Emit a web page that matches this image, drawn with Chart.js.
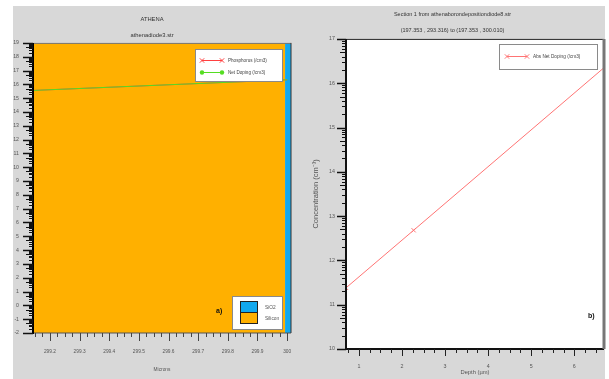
<!DOCTYPE html>
<html>
<head>
<meta charset="utf-8">
<script src="https://cdn.jsdelivr.net/npm/chart.js@4.4.1/dist/chart.umd.min.js"></script>
<style>
  html, body { margin: 0; padding: 0; background: #fff; }
  body { width: 609px; height: 379px; position: relative; overflow: hidden; }
  #bg { position: absolute; left: 13px; top: 6px; width: 592px; height: 373px; background: #d8d8d8; }
  .panel { position: absolute; top: 6px; }
  #leftWrap { left: 13px; }
  #rightWrap { left: 300px; }
</style>
</head>
<body>
<div id="bg"></div>
<div class="panel" id="leftWrap"><canvas id="chartLeft" width="287" height="373"></canvas></div>
<div class="panel" id="rightWrap"><canvas id="chartRight" width="309" height="373"></canvas></div>
<script>
const FONT = "'Liberation Sans', Arial, sans-serif";

// a) ATHENA structure
const leftX = [299.143, 300.0];
const phosphorus = [15.56, 16.33];
const netDoping = [15.56, 16.33];
const siliconX = [299.143, 299.993];
const oxideX = [299.993, 300.013];
const regionTop = [19, 19];

// b) cut line
const depth = [0.7, 2.27, 6.69];
const absNetDoping = [11.38, 12.68, 16.35];

function pts(xs, ys) {
  return xs.map((x, i) => ({ x: x, y: ys[i] }));
}

function seg(ctx, x1, y1, x2, y2) {
  ctx.beginPath();
  ctx.moveTo(x1, y1);
  ctx.lineTo(x2, y2);
  ctx.stroke();
}

function marker(ctx, style, x, y, r, color) {
  ctx.save();
  ctx.strokeStyle = color;
  ctx.fillStyle = color;
  ctx.lineWidth = 1;
  if (style === "crossRot") {
    seg(ctx, x - r, y - r, x + r, y + r);
    seg(ctx, x - r, y + r, x + r, y - r);
  } else {
    ctx.beginPath();
    ctx.arc(x, y, r, 0, Math.PI * 2);
    ctx.fill();
  }
  ctx.restore();
}

// ticks with log style minors on y
const axisMarks = {
  id: "axisMarks",
  afterDraw(chart, args, o) {
    const { ctx, chartArea: a } = chart;
    const x = chart.scales.x, y = chart.scales.y;
    ctx.save();
    ctx.strokeStyle = o.color;
    ctx.lineWidth = 1.5;
    y.ticks.forEach((t) => {
      const p = Math.round(y.getPixelForValue(t.value)) + 0.5;
      seg(ctx, a.left - o.yMajor, p, a.left, p);
    });
    ctx.lineWidth = 1;
    for (let v = Math.floor(y.min); v < y.max; v++) {
      for (let k = 2; k <= 9; k++) {
        const val = v + Math.log10(k);
        if (val < y.min || val > y.max) continue;
        const p = Math.round(y.getPixelForValue(val)) + 0.5;
        seg(ctx, a.left - (k === 5 ? o.yMid : o.yMinor), p, a.left, p);
      }
    }
    ctx.strokeStyle = o.xColor;
    x.ticks.forEach((t) => {
      const p = Math.round(x.getPixelForValue(t.value)) + 0.5;
      seg(ctx, p, a.bottom, p, a.bottom + o.xMajor);
    });
    const n0 = Math.ceil(x.min / o.xStep - 1e-6);
    const n1 = Math.floor(x.max / o.xStep + 1e-6);
    for (let i = n0; i <= n1; i++) {
      const val = i * o.xStep;
      if (x.ticks.some((t) => Math.abs(t.value - val) < o.xStep / 2)) continue;
      const p = Math.round(x.getPixelForValue(val)) + 0.5;
      seg(ctx, p, a.bottom, p, a.bottom + o.xMinor);
    }
    ctx.restore();
  },
};

// plot box
const frame = {
  id: "frame",
  beforeDatasetsDraw(chart, args, o) {
    if (!o.fill) return;
    const a = chart.chartArea, ctx = chart.ctx;
    ctx.save();
    ctx.fillStyle = o.fill;
    ctx.fillRect(a.left, a.top, a.width, a.height);
    ctx.restore();
  },
  afterDatasetsDraw(chart, args, o) {
    const a = chart.chartArea, ctx = chart.ctx;
    ctx.save();
    const s = o.sides;
    ctx.strokeStyle = s.top[0]; ctx.lineWidth = s.top[1];
    seg(ctx, a.left, a.top + 0.5, a.right, a.top + 0.5);
    ctx.strokeStyle = s.bottom[0]; ctx.lineWidth = s.bottom[1];
    seg(ctx, a.left, a.bottom, a.right, a.bottom);
    ctx.strokeStyle = s.right[0]; ctx.lineWidth = s.right[1];
    seg(ctx, a.right, a.top, a.right, a.bottom);
    ctx.strokeStyle = s.left[0]; ctx.lineWidth = s.left[1];
    seg(ctx, a.left, a.top, a.left, a.bottom + 1);
    ctx.restore();
  },
};

// boxed legends + panel tag
const boxLegend = {
  id: "boxLegend",
  afterDraw(chart, args, o) {
    const ctx = chart.ctx;
    (o.boxes || []).forEach((b) => {
      ctx.save();
      ctx.fillStyle = "#fff";
      ctx.fillRect(b.x, b.y, b.w, b.h);
      ctx.strokeStyle = "#8a8a8a";
      ctx.lineWidth = 1;
      ctx.strokeRect(b.x + 0.5, b.y + 0.5, b.w, b.h);
      ctx.font = b.font;
      ctx.textBaseline = "middle";
      b.items.forEach((idx, i) => {
        const ds = chart.data.datasets[idx];
        const cy = b.y + b.first + i * b.gap;
        if (b.kind === "swatch") {
          ctx.fillStyle = ds.backgroundColor;
          ctx.fillRect(b.x + b.sx, cy - b.sh / 2, b.sw, b.sh);
          ctx.strokeStyle = "#222";
          ctx.strokeRect(b.x + b.sx + 0.5, cy - b.sh / 2 + 0.5, b.sw, b.sh);
          ctx.fillStyle = "#555";
          ctx.fillText(ds.label, b.x + b.tx, cy + 1.5);
        } else {
          const x1 = b.x + b.sx, x2 = b.x + b.sx + b.sw;
          ctx.strokeStyle = ds.borderColor;
          ctx.lineWidth = 1;
          seg(ctx, x1, cy + 0.5, x2, cy + 0.5);
          marker(ctx, ds.legendMarker, x1, cy + 0.5, 2.2, ds.borderColor);
          marker(ctx, ds.legendMarker, x2, cy + 0.5, 2.2, ds.borderColor);
          ctx.fillStyle = "#444";
          ctx.fillText(ds.label, b.x + b.tx, cy + 0.5);
        }
      });
      ctx.restore();
    });
    if (o.tag) {
      ctx.save();
      ctx.font = "bold 7px " + FONT;
      ctx.fillStyle = "#111";
      ctx.textBaseline = "middle";
      ctx.fillText(o.tag.text, o.tag.x, o.tag.y);
      ctx.restore();
    }
  },
};

Chart.register(axisMarks, frame, boxLegend);

const tickFont = (size) => ({ family: FONT, size: size });
const fitX = (h) => (s) => { s.height = h; s.paddingLeft = 0; s.paddingRight = 0; };
const fitY = (w) => (s) => { s.width = w; s.paddingTop = 0; s.paddingBottom = 0; };

new Chart(document.getElementById("chartLeft"), {
  type: "line",
  data: {
    datasets: [
      {
        label: "Net Doping (/cm3)",
        data: pts(leftX, netDoping),
        borderColor: "#55dd22",
        borderWidth: 1,
        pointRadius: 0,
        legendMarker: "circle",
        order: 0,
      },
      {
        label: "Phosphorus (/cm3)",
        data: pts(leftX, phosphorus),
        borderColor: "#ff4040",
        borderWidth: 1,
        pointRadius: 0,
        legendMarker: "crossRot",
        order: 1,
      },
      {
        label: "SiO2",
        data: pts(oxideX, regionTop),
        borderWidth: 0,
        pointRadius: 0,
        backgroundColor: "#12a8ee",
        fill: "start",
        order: 2,
      },
      {
        label: "Silicon",
        data: pts(siliconX, regionTop),
        borderWidth: 0,
        pointRadius: 0,
        backgroundColor: "#ffb000",
        fill: "start",
        order: 3,
      },
    ],
  },
  options: {
    responsive: false,
    animation: false,
    layout: { padding: { left: 0, right: 9, top: 0, bottom: 0 } },
    plugins: {
      legend: { display: false },
      tooltip: { enabled: false },
      title: {
        display: true,
        text: "ATHENA",
        color: "#333",
        font: { family: FONT, size: 5.8, weight: "normal" },
        padding: { top: 9.5, bottom: 2 },
      },
      subtitle: {
        display: true,
        text: "athenadiode3.str",
        color: "#333",
        font: { family: FONT, size: 5.8 },
        padding: { top: 7, bottom: 4.5 },
      },
      axisMarks: { color: "#111", xColor: "#444", yMajor: 10, yMid: 7, yMinor: 4, xMajor: 8, xMinor: 4, xStep: 0.025 },
      frame: {
        sides: { top: ["#777", 1], bottom: ["#555", 1], right: ["#333", 1], left: ["#000", 2] },
      },
      boxLegend: {
        boxes: [
          { x: 182, y: 43, w: 87, h: 32, items: [1, 0], first: 11, gap: 12, sx: 7, sw: 20, tx: 33, font: "4.6px " + FONT },
          { x: 219, y: 290, w: 50, h: 33, items: [2, 3], kind: "swatch", first: 10.5, gap: 11, sx: 8, sw: 17, sh: 11, tx: 33, font: "4.8px " + FONT },
        ],
        tag: { text: "a)", x: 203, y: 305 },
      },
    },
    scales: {
      x: {
        type: "linear",
        min: 299.143,
        max: 300.013,
        grid: { display: false, drawTicks: false },
        border: { display: false },
        ticks: {
          stepSize: 0.1,
          includeBounds: false,
          autoSkip: false,
          maxRotation: 0,
          padding: 15.7,
          color: "#555",
          font: tickFont(4.8),
          callback: (v) => String(+v.toFixed(2)),
        },
        title: {
          display: true,
          text: "Microns",
          color: "#555",
          font: tickFont(4.8),
          padding: { top: 0, bottom: 6.5 },
        },
        afterFit: fitX(46),
      },
      y: {
        min: -2,
        max: 19,
        grid: { display: false, drawTicks: false },
        border: { display: false },
        ticks: {
          stepSize: 1,
          autoSkip: false,
          padding: 14,
          color: "#555",
          font: tickFont(5.2),
          callback: (v) => String(v),
        },
        afterFit: fitY(20),
      },
    },
  },
});

new Chart(document.getElementById("chartRight"), {
  type: "line",
  data: {
    datasets: [
      {
        label: "Abs Net Doping (/cm3)",
        data: pts(depth, absNetDoping),
        borderColor: "#ff7474",
        borderWidth: 1,
        pointStyle: "crossRot",
        pointRadius: [3, 3, 0],
        pointBorderColor: "#ff7474",
        pointBorderWidth: 1,
        legendMarker: "crossRot",
      },
    ],
  },
  options: {
    responsive: false,
    animation: false,
    layout: { padding: { left: 0, right: 4, top: 0, bottom: 0 } },
    plugins: {
      legend: { display: false },
      tooltip: { enabled: false },
      title: {
        display: true,
        text: "Section 1 from athenaborondepositiondiode8.str",
        color: "#333",
        font: { family: FONT, size: 5.5, weight: "normal" },
        padding: { top: 4.7, bottom: 2 },
      },
      subtitle: {
        display: true,
        text: "(197.353 , 293.316) to (197.353 , 300.010)",
        color: "#333",
        font: { family: FONT, size: 5.5 },
        padding: { top: 7.4, bottom: 5.6 },
      },
      axisMarks: { color: "#111", xColor: "#222", yMajor: 9, yMid: 6, yMinor: 4, xMajor: 7, xMinor: 4, xStep: 0.25 },
      frame: {
        fill: "#fff",
        sides: { top: ["#222", 1], bottom: ["#111", 2], right: ["#777", 3], left: ["#111", 2] },
      },
      boxLegend: {
        boxes: [
          { x: 199, y: 38, w: 98, h: 25, items: [0], first: 12, gap: 12, sx: 8, sw: 20, tx: 34, font: "4.7px " + FONT },
        ],
        tag: { text: "b)", x: 288, y: 310 },
      },
    },
    scales: {
      x: {
        type: "linear",
        min: 0.7,
        max: 6.69,
        grid: { display: false, drawTicks: false },
        border: { display: false },
        ticks: {
          stepSize: 1,
          includeBounds: false,
          autoSkip: false,
          maxRotation: 0,
          padding: 14.8,
          color: "#555",
          font: tickFont(5.3),
          callback: (v) => String(v),
        },
        title: {
          display: true,
          text: "Depth (µm)",
          color: "#555",
          font: tickFont(5.8),
          padding: { top: 0, bottom: 3.5 },
        },
        afterFit: fitX(30),
      },
      y: {
        min: 10,
        max: 17,
        grid: { display: false, drawTicks: false },
        border: { display: false },
        ticks: {
          stepSize: 1,
          autoSkip: false,
          padding: 11,
          color: "#555",
          font: tickFont(5.3),
          callback: (v) => String(v),
        },
        title: {
          display: true,
          text: "Concentration (cm⁻³)",
          color: "#555",
          font: tickFont(7.5),
          padding: { top: 11.5, bottom: 0 },
        },
        afterFit: fitY(46),
      },
    },
  },
});
</script>
</body>
</html>
